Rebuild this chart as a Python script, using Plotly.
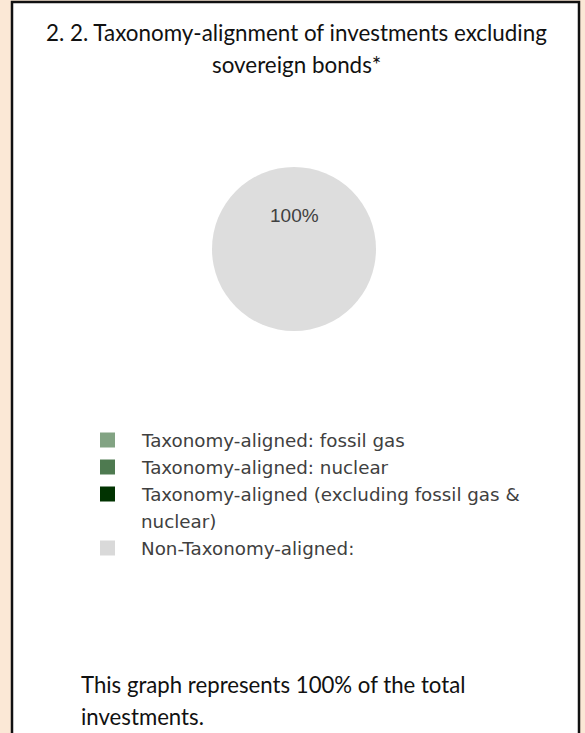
import plotly.graph_objects as go

W, H = 585, 733

title_lines = ["2. 2. Taxonomy-alignment of investments excluding", "sovereign bonds*"]
categories = [
    "Taxonomy-aligned: fossil gas",
    "Taxonomy-aligned: nuclear",
    "Taxonomy-aligned (excluding fossil gas &<br>nuclear)",
    "Non-Taxonomy-aligned:",
]
values = [0, 0, 0, 100]
colors = ["#82A383", "#4E7A50", "#013301", "#DDDDDD"]
legend_colors = ["#82A383", "#4E7A50", "#013301", "#D9D9D9"]
footnote_lines = ["This graph represents 100% of the total", "investments."]


def px_x(x):
    return x / W


def px_y(y):
    return 1 - y / H


fig = go.Figure()

# pie
cx, cy, r = 294, 249, 82
fig.add_trace(go.Pie(
    labels=[c.replace("<br>", " ") for c in categories],
    values=values,
    marker=dict(colors=colors, line=dict(width=0)),
    textinfo="none",
    sort=False,
    direction="clockwise",
    showlegend=False,
    domain=dict(x=[px_x(cx - r), px_x(cx + r)], y=[px_y(cy + r), px_y(cy - r)]),
    hoverinfo="label+percent",
))

shapes = []
annotations = []

# outer framed panel
shapes.append(dict(type="rect", xref="paper", yref="paper",
                   x0=px_x(12), x1=px_x(579), y0=px_y(760), y1=px_y(2),
                   fillcolor="white", line=dict(color="#111111", width=2.5),
                   layer="below"))

# title
for i, t in enumerate(title_lines):
    annotations.append(dict(text=t, xref="paper", yref="paper", x=px_x(296), y=px_y(33 + 31 * i),
                            xanchor="center", yanchor="middle", showarrow=False,
                            font=dict(family="Lato", size=22.4, color="#111111")))

# pie label(s) from values
total = sum(values)
for v in values:
    if v > 0:
        annotations.append(dict(text=f"{round(100 * v / total)}%", xref="paper", yref="paper",
                                x=px_x(cx), y=px_y(215), xanchor="center", yanchor="middle",
                                showarrow=False,
                                font=dict(family="Liberation Sans", size=19, color="#404040")))

# legend
row_y = 440
line_h = 27
for cat, col in zip(categories, legend_colors):
    shapes.append(dict(type="rect", xref="paper", yref="paper",
                       x0=px_x(100), x1=px_x(115), y0=px_y(row_y + 7.5), y1=px_y(row_y - 7.5),
                       fillcolor=col, line=dict(width=0)))
    for j, part in enumerate(cat.split("<br>")):
        annotations.append(dict(text=part, xref="paper", yref="paper", x=px_x(139),
                                y=px_y(row_y + j * line_h), xanchor="left", yanchor="middle",
                                showarrow=False,
                                font=dict(family="DejaVu Sans", size=18.3, color="#404040")))
    row_y += line_h * len(cat.split("<br>"))

# footnote
for i, t in enumerate(footnote_lines):
    annotations.append(dict(text=t, xref="paper", yref="paper", x=px_x(79), y=px_y(684 + 32 * i),
                            xanchor="left", yanchor="middle", showarrow=False,
                            font=dict(family="Lato", size=22.2, color="#111111")))

fig.update_layout(
    width=W, height=H,
    margin=dict(l=0, r=0, t=0, b=0),
    paper_bgcolor="#FBE8D6",
    plot_bgcolor="white",
    shapes=shapes,
    annotations=annotations,
    showlegend=False,
)

fig.write_html("out.html",
               config={"displayModeBar": False},
               post_script="document.body.style.margin='0';document.body.style.background='#FBE8D6';")
